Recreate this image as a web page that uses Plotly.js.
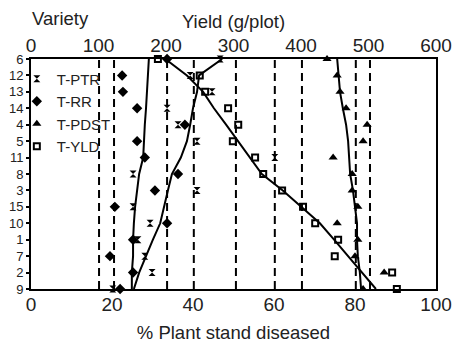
<!DOCTYPE html>
<html>
<head>
<meta charset="utf-8">
<script src="https://cdn.plot.ly/plotly-3.0.1.min.js"></script>
<style>html,body{margin:0;padding:0;background:#fff;}#chart{width:456px;height:345px;}</style>
</head>
<body>
<div id="chart"></div>
<script>
// Varieties, top to bottom
const varieties = ['6','12','13','14','4','5','11','8','3','15','10','1','7','2','9'];

// Series values (% on bottom axis, yield g/plot on top axis)
const tPTR  = [46.7,39.3,44.7,33.6,36.3,41.0,60.2,25.2,41.0,25.2,29.4,26.4,28.1,29.9,20.2];
const tRR   = [33.6,22.5,22.7,26.2,38.0,26.2,28.1,36.3,30.6,20.7,33.6,25.2,19.5,25.2,22.0];
const tPDST = [73.1,75.6,76.3,77.8,83.0,82.0,74.6,79.3,79.3,80.7,75.6,80.7,80.0,87.2,82.0];
const tYLD  = [188,250,258,292,307,299,332,344,372,403,421,455,450,535,542];

// Trend lines
const trendPTR  = [47.2,41.5,41.0,40.0,39.3,38.5,37.0,34.8,33.8,32.8,31.9,30.1,28.4,26.7,25.4];
const trendRR   = [29.1,28.9,28.6,28.4,28.1,27.9,27.7,26.7,26.2,25.7,25.4,25.2,25.2,24.9,24.9];
const trendPDST = [75.6,76.0,76.3,77.0,77.8,78.3,78.5,78.8,79.5,80.0,80.5,80.5,80.7,81.2,81.5];
const trendYLD  = [199,231,255,271,289,307,324,342,373,401,428,449,470,490,511];

// Dashed reference lines (% plant stand diseased)
const refLines = [16.8,20.5,33.6,40.2,50.6,60.2,66.9,80.2,83.7];

// Axis ticks
const bottomTicks = [0,20,40,60,80,100];
const topTicks = [0,100,200,300,400,500,600];

const idx = varieties.map((v,i)=>i);
const BLK = '#000';
const NARROW = '"Liberation Sans Narrow", "Arial Narrow", sans-serif';
const SANS = '"Liberation Sans", Arial, sans-serif';

function lineTrace(xs, axis){
  return {x: xs, y: idx, xaxis: axis, yaxis: 'y', mode: 'lines', type: 'scatter',
    line: {color: BLK, width: 2}, showlegend: false, hoverinfo: 'skip', cliponaxis: false};
}
function markTrace(name, xs, axis, sym, size, open){
  return {x: xs, y: idx, xaxis: axis, yaxis: 'y', mode: 'markers', type: 'scatter', name: name,
    cliponaxis: false,
    marker: open ? {symbol: sym, size: size, color: BLK, line: {color: BLK, width: 2}}
                 : {symbol: sym, size: size, color: BLK, line: {color: BLK, width: 0}}};
}

const data = [
  lineTrace(trendRR, 'x'),
  lineTrace(trendPTR, 'x'),
  lineTrace(trendPDST, 'x'),
  lineTrace(trendYLD, 'x2'),
  markTrace('T-PTR', tPTR, 'x', 'hourglass', 7, false),
  markTrace('T-RR', tRR, 'x', 'diamond', 8, false),
  markTrace('T-PDST', tPDST, 'x', 'triangle-up', 8, false),
  markTrace('T-YLD', tYLD, 'x2', 'square-open', 6, true)
];

const shapes = refLines.map(v => ({type: 'line', xref: 'x', yref: 'paper', x0: v, x1: v, y0: 0, y1: 1,
  layer: 'below', line: {color: BLK, width: 2, dash: '8px,5px'}}));

const layout = {
  width: 456, height: 345,
  margin: {l: 31, r: 20, t: 59, b: 56, pad: 0},
  paper_bgcolor: '#fff', plot_bgcolor: '#fff',
  font: {family: NARROW, color: '#222', size: 16},
  showlegend: true,
  legend: {x: -0.035, xanchor: 'left', y: 0.985, yanchor: 'top', bgcolor: 'rgba(0,0,0,0)',
    font: {family: NARROW, size: 15, color: '#222'}, itemclick: false, tracegroupgap: 0},
  xaxis: {range: [0,100], tickvals: bottomTicks, ticks: '', showgrid: false, zeroline: false,
    showline: true, mirror: true, linecolor: BLK, linewidth: 2, ticklabelstandoff: -3,
    tickfont: {family: NARROW, size: 19, color: '#222'},
    title: {text: '% Plant stand diseased', font: {family: SANS, size: 18.5, color: '#222'}, standoff: 12}},
  xaxis2: {range: [0,600], overlaying: 'x', side: 'top', tickvals: topTicks, ticks: '', showgrid: false,
    zeroline: false, showline: false, ticklabelstandoff: 2,
    tickfont: {family: NARROW, size: 19, color: '#222'},
    title: {text: 'Yield (g/plot)', font: {family: SANS, size: 18.5, color: '#222'}, standoff: 1}},
  yaxis: {range: [14,0], tickvals: idx, ticktext: varieties, ticks: 'outside', ticklen: 3, tickwidth: 2,
    tickcolor: BLK, showgrid: false, zeroline: false, showline: true, mirror: true, linecolor: BLK, linewidth: 2,
    tickfont: {family: NARROW, size: 13, color: '#222'}, ticklabelstandoff: 0},
  shapes: shapes,
  annotations: [{text: 'Variety', xref: 'paper', yref: 'paper', x: -0.002, y: 1, xanchor: 'left', yanchor: 'bottom',
    yshift: 28, showarrow: false, font: {family: SANS, size: 18.5, color: '#222'}}]
};

Plotly.newPlot('chart', data, layout, {staticPlot: true, displayModeBar: false});
</script>
</body>
</html>
